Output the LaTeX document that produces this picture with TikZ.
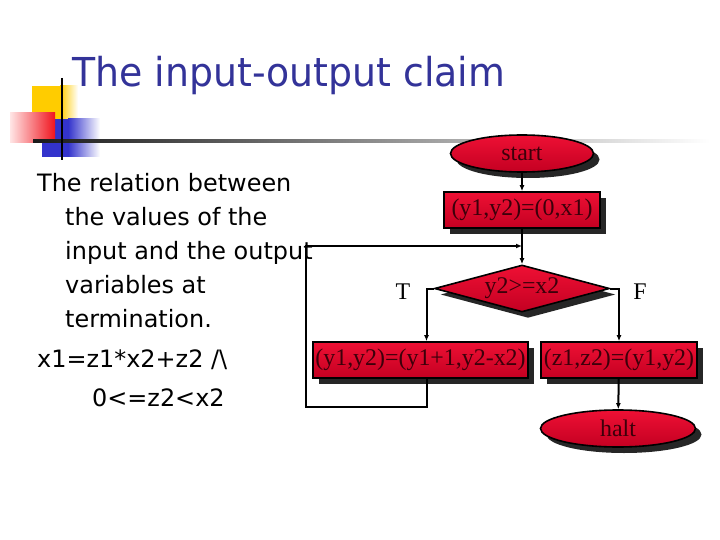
\documentclass[tikz,border=0pt]{standalone}
\usepackage{fontspec}
\setmainfont{Liberation Serif}
\newfontfamily\slidefont{DejaVu Sans}
\newfontfamily\titlefont{DejaVu Sans}[FakeStretch=0.95]
\usetikzlibrary{shapes.geometric,shadows,arrows.meta}
\definecolor{boxtop}{RGB}{238,16,52}
\definecolor{boxbottom}{RGB}{196,0,34}
\definecolor{boxtext}{RGB}{60,0,10}
\definecolor{titleblue}{RGB}{51,51,153}
\definecolor{decoyellow}{RGB}{255,204,0}
\definecolor{decored}{RGB}{240,20,30}
\definecolor{decoblue}{RGB}{51,51,204}

\begin{document}
\begin{tikzpicture}[x=1bp,y=-1bp,
    >={Latex[length=6bp,width=5bp]},
    flow/.style={draw=black, line width=1.6bp, top color=boxtop, bottom color=boxbottom,
      text=boxtext, font=\fontsize{24}{24}\selectfont, inner sep=0pt,
      drop shadow={shadow xshift=6bp, shadow yshift=-6bp, fill=black!85, opacity=1}},
    stepbox/.style={flow, rectangle, minimum height=36bp},
    terminal/.style={flow, ellipse, minimum height=37bp},
    decision/.style={flow, diamond, minimum width=175bp, minimum height=47bp, aspect=3.7},
    conn/.style={->, line width=2bp},
    bodyline/.style={font=\slidefont\fontsize{24}{24}\selectfont, anchor=base west, inner sep=0pt}]
      \useasboundingbox (0,0) rectangle (720,540);
      \fill[white] (0,0) rectangle (720,540);
      % corner squares and rule
      \fill[decoyellow] (32,86) rectangle (60,119);
      \shade[left color=decoyellow, right color=white] (60,86) rectangle (78,119);
      \fill[decoblue] (42,119) rectangle (68,157);
      \shade[left color=decoblue, right color=white] (68,119) rectangle (100,157);
      \shade[left color=red!10, right color=decored] (10,113) rectangle (55,143);
      \shade[left color=black!90, right color=white] (33,139.6) rectangle (710,142.6);
      \draw[line width=2.2bp] (62,78) -- (62,160);
      \node[font=\titlefont\fontsize{40}{40}\selectfont, text=titleblue, anchor=base west, inner sep=0pt] (title) at (72,87) {The input-output claim};
      % left text
      \node[bodyline] (l1) at (37,192) {The relation between};
      \node[bodyline] (l2) at (65,226) {the values of the};
      \node[bodyline] (l3) at (65,259.5) {input and the output};
      \node[bodyline] (l4) at (65,293) {variables at};
      \node[bodyline] (l5) at (65,327) {termination.};
      \node[bodyline] (l6) at (37,367) {x1=z1*x2+z2 /\textbackslash};
      \node[bodyline] (l7) at (92,406) {0<=z2<x2};
      % flowchart
      \node[terminal, minimum width=143bp] (start) at (522,153.5) {start};
      \node[stepbox, minimum width=156bp] (init) at (522,210) {(y1,y2)=(0,x1)};
      \node[decision] (test) at (522,288.5) {y2>=x2};
      \node[stepbox, minimum width=215bp] (body) at (420.5,360) {(y1,y2)=(y1+1,y2-x2)};
      \node[stepbox, minimum width=156bp] (done) at (619,360) {(z1,z2)=(y1,y2)};
      \node[terminal, minimum width=155bp] (halt) at (618,428.5) {halt};
      \node[font=\fontsize{24}{24}\selectfont] (tlabel) at (403,292) {T};
      \node[font=\fontsize{24}{24}\selectfont] (flabel) at (640,292) {F};
      \coordinate (merge) at (522,246);
      \coordinate (corner) at (306,407);
      \draw[conn] (start) -- (init);
      \draw[conn] (init) -- (test);
      % true branch and loop back
      \draw[conn] (test.west) -| ([xshift=6bp]body.north);
      \draw[conn] ([xshift=6bp]body.south) |- (corner) |- (merge);
      % false branch
      \draw[conn] (test.east) -| (done.north);
      \draw[conn] (done) -- (halt);
    \end{tikzpicture}
\end{document}
